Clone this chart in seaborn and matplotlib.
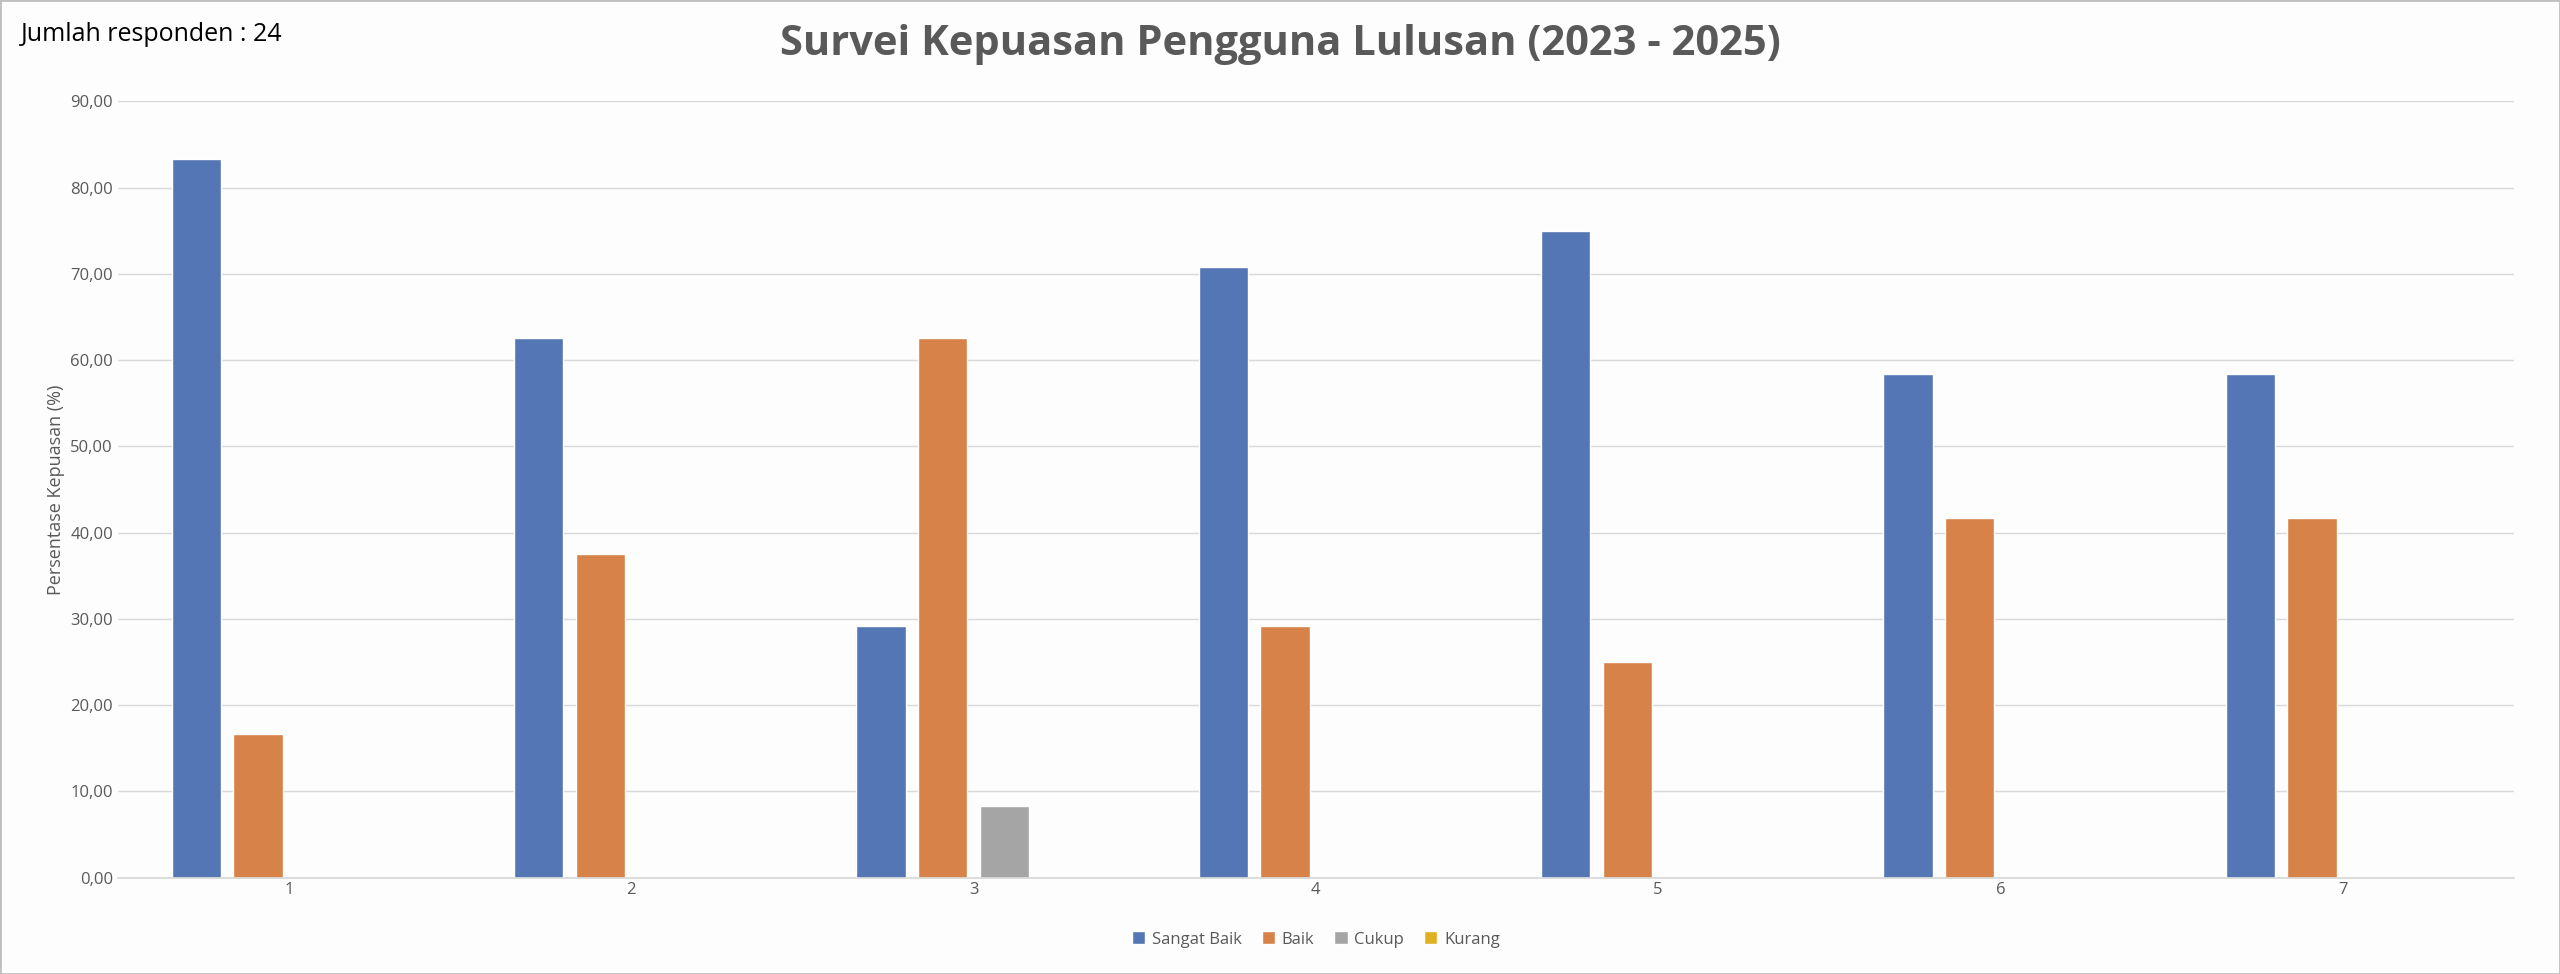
import matplotlib
matplotlib.use("Agg")
import matplotlib.pyplot as plt
import seaborn as sns
import pandas as pd
from matplotlib.ticker import FuncFormatter

categories = ["1", "2", "3", "4", "5", "6", "7"]
series = ["Sangat Baik", "Baik", "Cukup", "Kurang"]
sangat_baik = [83.33, 62.50, 29.17, 70.83, 75.00, 58.33, 58.33]
baik = [16.67, 37.50, 62.50, 29.17, 25.00, 41.67, 41.67]
cukup = [0, 0, 8.33, 0, 0, 0, 0]
kurang = [0, 0, 0, 0, 0, 0, 0]
colors = ["#4472C4", "#ED7D31", "#A5A5A5", "#FFC000"]

rows = []
for name, vals in zip(series, [sangat_baik, baik, cukup, kurang]):
    for c, v in zip(categories, vals):
        rows.append({"cat": c, "series": name, "val": v})
df = pd.DataFrame(rows)

sns.set_theme(style="white")
plt.rcParams['font.family'] = ['Open Sans', 'DejaVu Sans']
fig = plt.figure(figsize=(25.6, 9.74), dpi=100, facecolor="#FDFDFD")
ax = fig.add_axes([0.046, 0.099, 0.936, 0.797])
ax.set_facecolor("#FDFDFD")
sns.barplot(data=df, x="cat", y="val", hue="series", palette=colors,
            width=0.72, gap=0.2, ax=ax, legend=True)
ax.set_ylim(0, 90)
ax.set_yticks(range(0, 91, 10))
ax.yaxis.set_major_formatter(FuncFormatter(lambda v, p: f"{v:.2f}".replace(".", ",")))
ax.grid(axis="y", color="#D9D9D9", linewidth=1)
ax.set_axisbelow(True)
for s in ["top", "right", "left"]:
    ax.spines[s].set_visible(False)
ax.spines["bottom"].set_color("#D9D9D9")
ax.tick_params(axis="both", labelsize=12, colors="#595959", length=0)
ax.set_xlabel("")
ax.set_ylabel("Persentase Kepuasan (%)", fontsize=13, color="#595959")
ax.legend(loc="upper center", bbox_to_anchor=(0.5, -0.05), ncol=4, frameon=False,
          fontsize=12, labelcolor="#595959", handlelength=0.8, handleheight=0.8,
          columnspacing=1.2, handletextpad=0.4)
fig.suptitle("Survei Kepuasan Pengguna Lulusan (2023 - 2025)", y=0.975,
             fontsize=30, fontweight="bold", color="#595959")
fig.text(0.008, 0.965, "Jumlah responden : 24", fontsize=18, color="black", va="center")
fig.patches.append(plt.Rectangle((0, 0), 1, 1, transform=fig.transFigure,
                                 fill=False, edgecolor="#BFBFBF", linewidth=2))
fig.savefig("out.png", dpi=100, facecolor=fig.get_facecolor())
